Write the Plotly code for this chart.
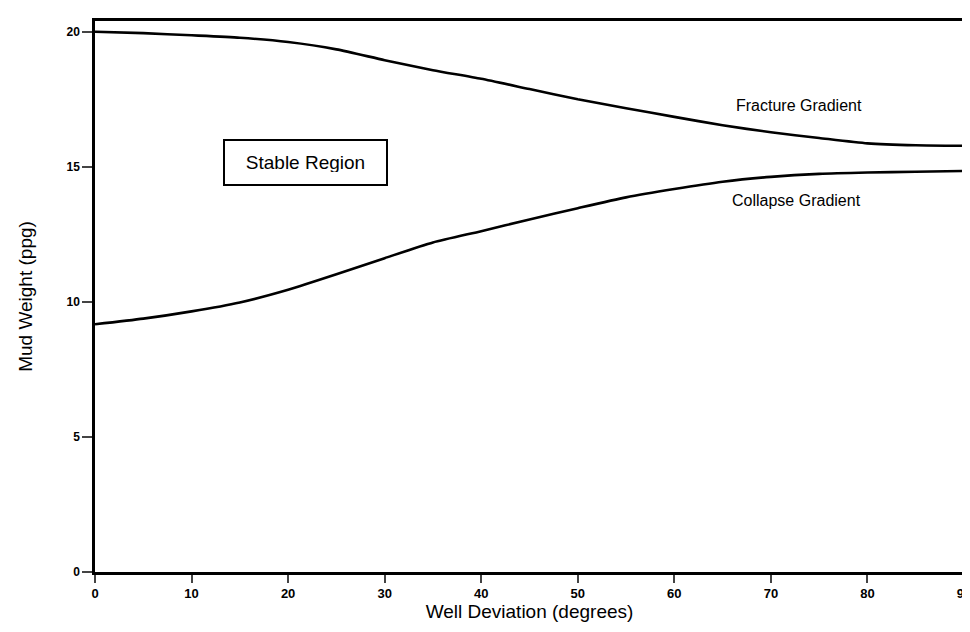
import plotly.graph_objects as go

deviation = [0, 5, 10, 15, 20, 25, 30, 35, 40, 45, 50, 55, 60, 65, 70, 75, 80, 85, 90]
fracture = [20.0, 19.95, 19.87, 19.78, 19.62, 19.35, 18.95, 18.58, 18.26, 17.88, 17.5, 17.17, 16.85, 16.54, 16.28, 16.07, 15.87, 15.8, 15.78]
collapse = [9.17, 9.38, 9.65, 9.98, 10.45, 11.02, 11.62, 12.2, 12.62, 13.05, 13.47, 13.87, 14.18, 14.45, 14.63, 14.74, 14.79, 14.82, 14.85]

x_ticks = [0, 10, 20, 30, 40, 50, 60, 70, 80, 90]
y_ticks = [0, 5, 10, 15, 20]

font = "Liberation Sans, Arial, sans-serif"

fig = go.Figure()
fig.add_trace(go.Scatter(x=deviation, y=fracture, mode="lines", name="Fracture Gradient",
                         line=dict(color="black", width=2.6, shape="spline", smoothing=0.6)))
fig.add_trace(go.Scatter(x=deviation, y=collapse, mode="lines", name="Collapse Gradient",
                         line=dict(color="black", width=2.6, shape="spline", smoothing=0.6)))

fig.add_annotation(x=72.9, y=17.26, text="Fracture Gradient", showarrow=False,
                   font=dict(family=font, size=16, color="black"), xanchor="center", yanchor="middle")
fig.add_annotation(x=72.7, y=13.74, text="Collapse Gradient", showarrow=False,
                   font=dict(family=font, size=16, color="black"), xanchor="center", yanchor="middle")
fig.add_annotation(x=21.8, y=15.17, text="Stable Region", showarrow=False,
                   font=dict(family=font, size=19, color="black"),
                   width=137, height=19, align="center", valign="middle",
                   bordercolor="black", borderwidth=2, borderpad=12, bgcolor="white")

fig.update_layout(
    width=970, height=632,
    margin=dict(l=87, r=14, t=13, b=68),
    plot_bgcolor="white", paper_bgcolor="white",
    showlegend=False,
    font=dict(family=font, color="black"),
    xaxis=dict(range=[0, 90], tickvals=x_ticks, ticks="outside", ticklen=8, tickwidth=2,
               showline=True, linecolor="black", linewidth=2.5, mirror=True,
               showgrid=False, zeroline=False, automargin=False,
               tickfont=dict(family=font, size=13, color="black", weight="bold"),
               title=dict(text="Well Deviation (degrees)", font=dict(family=font, size=19, color="black"), standoff=0)),
    yaxis=dict(range=[0, 20.4], tickvals=y_ticks, ticks="outside", ticklen=10, tickwidth=2,
               showline=True, linecolor="black", linewidth=2.5, mirror=True,
               showgrid=False, zeroline=False, automargin=False,
               tickfont=dict(family=font, size=12, color="black", weight="bold"),
               title=dict(text="Mud Weight (ppg)", font=dict(family=font, size=19, color="black"), standoff=29)),
)

fig.write_html("out.html")
